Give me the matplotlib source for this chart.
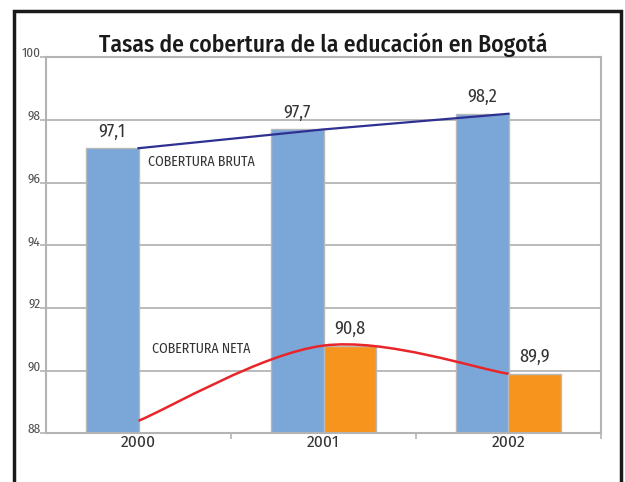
import numpy as np
import matplotlib
matplotlib.use('Agg')
import matplotlib.pyplot as plt
from matplotlib.patches import Rectangle, PathPatch
from matplotlib.path import Path
import matplotlib.transforms as mtransforms

plt.rcParams['font.family'] = ['Fira Sans Condensed', 'DejaVu Sans']

# Data
years = ['2000', '2001', '2002']
bruta = [97.1, 97.7, 98.2]
neta_line = [88.4, 90.8, 89.9]
neta_bar = [None, 90.8, 89.9]   # no bar drawn for 2000
bruta_labels = ['97,1', '97,7', '98,2']
neta_labels = [None, '90,8', '89,9']

COLOR_BRUTA = '#7ba7d8'
COLOR_NETA = '#f7941d'
COLOR_LINE_BRUTA = '#2e3192'
COLOR_LINE_NETA = '#e8262a'
COLOR_GRID = '#b4b4b4'
COLOR_TEXT = '#333333'


def smooth_path(xs, ys, tension=1/6):
    # Catmull-Rom style cubic bezier through the points (spreadsheet "smoothed line")
    pts = np.column_stack([xs, ys])
    n = len(pts)
    verts = [pts[0]]
    codes = [Path.MOVETO]
    for i in range(n - 1):
        p0 = pts[max(i - 1, 0)]
        p1 = pts[i]
        p2 = pts[i + 1]
        p3 = pts[min(i + 2, n - 1)]
        verts += [p1 + (p2 - p0) * tension, p2 - (p3 - p1) * tension, p2]
        codes += [Path.CURVE4] * 3
    return Path(verts, codes)


fig = plt.figure(figsize=(6.25, 4.82), dpi=100)
ax = fig.add_axes([0.0736, 0.101, 0.888, 0.780])

x = np.arange(len(years))
w = 0.286
ax.bar(x - w / 2, bruta, width=w, color=COLOR_BRUTA,
       edgecolor='#b8b8b8', linewidth=1.0, zorder=2)
for xi, v in zip(x, neta_bar):
    if v is not None:
        ax.bar(xi + w / 2, v, width=w, color=COLOR_NETA,
               edgecolor='#b8b8b8', linewidth=1.0, zorder=2)

ax.plot(x, bruta, color=COLOR_LINE_BRUTA, linewidth=1.6, zorder=3)
ax.add_patch(PathPatch(smooth_path(x, neta_line), facecolor='none',
                       edgecolor=COLOR_LINE_NETA, linewidth=1.8, zorder=3))

for xi, v, lab in zip(x, bruta, bruta_labels):
    ax.text(xi - w / 2, v + 0.25, lab, ha='center', va='bottom',
            fontsize=13, color=COLOR_TEXT, zorder=4)
for xi, v, lab in zip(x, neta_bar, neta_labels):
    if v is not None:
        ax.text(xi + w / 2, v + 0.25, lab, ha='center', va='bottom',
                fontsize=13, color=COLOR_TEXT, zorder=4)

ax.text(0.05, 96.67, 'COBERTURA BRUTA', fontsize=10,
        color=COLOR_TEXT, va='center', ha='left', zorder=4)
ax.text(0.073, 90.69, 'COBERTURA NETA', fontsize=10,
        color=COLOR_TEXT, va='center', ha='left', zorder=4)

ax.set_xlim(-0.5, 2.5)
ax.set_ylim(88, 100)
ax.set_yticks(np.arange(88, 101, 2))
ax.set_yticklabels([str(v) for v in range(88, 101, 2)], fontsize=9.5,
                   color='#505050')
for lab in ax.get_yticklabels():
    lab.set_verticalalignment('baseline')
ax.set_xticks(x)
ax.set_xticklabels(years, fontsize=12.5, color=COLOR_TEXT)
offset = mtransforms.ScaledTranslation(8 / 100, 0, fig.dpi_scale_trans)
for lab in ax.get_xticklabels():
    lab.set_transform(lab.get_transform() + offset)
ax.set_xticks([0.5, 1.5, 2.5], minor=True)
ax.tick_params(axis='x', which='major', length=0, pad=1)
ax.tick_params(axis='x', which='minor', length=4, color=COLOR_GRID, width=1.2)
ax.tick_params(axis='y', length=4, color=COLOR_GRID, width=1.2, pad=0)
ax.grid(axis='y', color=COLOR_GRID, linewidth=1.3, zorder=1)
ax.set_axisbelow(True)
for s in ax.spines.values():
    s.set_color(COLOR_GRID)
    s.set_linewidth(1.5)

fig.text(0.517, 0.907, 'Tasas de cobertura de la educación en Bogotá',
         ha='center', va='center', fontsize=17, fontweight=500, color='#1a1a1a')

# outer frame
fig.add_artist(Rectangle((14 / 625, -0.1), (621 - 14) / 625, 1.1 - 11 / 482,
                         transform=fig.transFigure, fill=False,
                         edgecolor='#1a1a1a', linewidth=2.5))

fig.savefig('out.png', dpi=100)
